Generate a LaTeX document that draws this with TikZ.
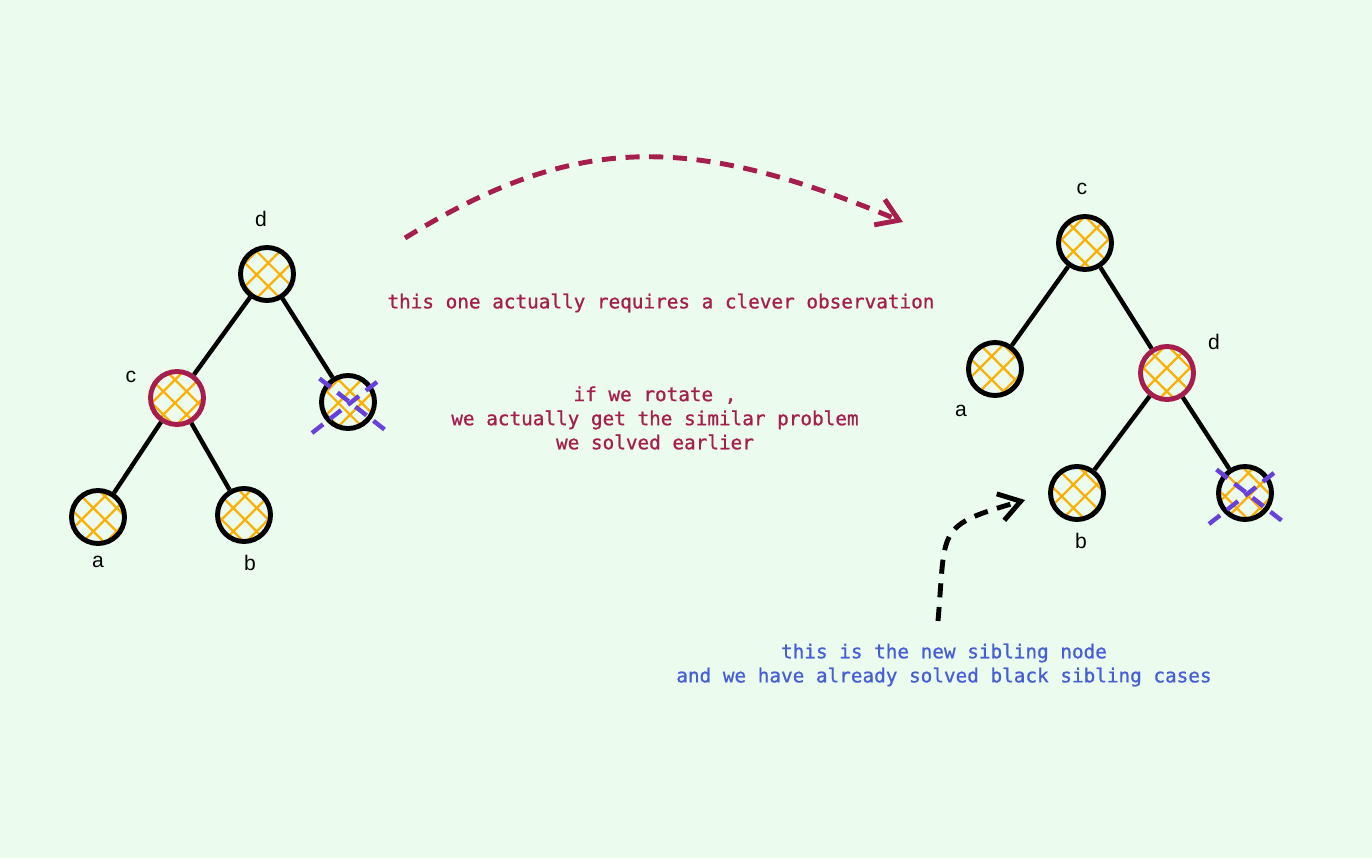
\documentclass[tikz,border=0pt]{standalone}
\usepackage{fontspec}
\setmainfont{Liberation Sans}
\newfontfamily\notefont{DejaVu Sans Mono}[FakeBold=0.9]
\usetikzlibrary{arrows.meta, patterns.meta, calc}
\definecolor{bgmint}{RGB}{235,251,238}
\definecolor{rbred}{RGB}{166,30,77}
\definecolor{hatchgold}{RGB}{250,176,5}
\definecolor{xviolet}{RGB}{103,65,217}
\definecolor{noteblue}{RGB}{70,94,214}

\begin{document}
\begin{tikzpicture}[
        tnode/.style={circle, draw=black, line width=2.8pt, minimum size=10.6mm, inner sep=0pt,
          pattern={Hatch[angle=45, distance=3.3mm, line width=1.3pt]}, pattern color=hatchgold},
        rnode/.style={tnode, draw=rbred},
        edge/.style={line width=2.5pt, black},
        cross/.style={line width=2.5pt, xviolet, dash pattern=on 8pt off 5pt},
        lbl/.style={font=\fontsize{12}{14}\selectfont},
        note/.style={font=\notefont\fontsize{11}{13.7}\selectfont, align=center},
        hint/.style={line width=2.8pt, dash pattern=on 8pt off 5.5pt,
          -{Straight Barb[length=4.2mm, width=5.5mm]}}
      ]
        \fill[bgmint] (0,0) rectangle (27.44,17.16);
        \useasboundingbox (0,0) rectangle (27.44,17.16);
        \node[tnode] (ld) at (5.34,11.68) {};
        \node[rnode] (lc) at (3.54,9.20)  {};
        \node[tnode] (lx) at (6.96,9.12)  {};
        \node[tnode] (la) at (1.96,6.82)  {};
        \node[tnode] (lb) at (4.88,6.86)  {};
        \node[tnode] (rc) at (21.70,12.30) {};
        \node[tnode] (ra) at (19.90,9.78)  {};
        \node[rnode] (rd) at (23.34,9.70)  {};
        \node[tnode] (rb) at (21.54,7.30)  {};
        \node[tnode] (rx) at (24.90,7.30)  {};
        \foreach \p/\q in {ld/lc, ld/lx, lc/la, lc/lb, rc/ra, rc/rd, rd/rb, rd/rx} { \draw[edge] (\p) -- (\q); }
        \foreach \n in {lx, rx} {
          \draw[cross] ($(\n)+(-0.72,-0.62)$) -- ($(\n)+(0.68,0.48)$);
          \draw[cross] ($(\n)+(-0.57,0.47)$) -- ($(\n)+(0.82,-0.62)$);
        }
        \node[lbl] (ldl) at (5.22,12.78) {d};
        \node[lbl] (lcl) at (2.62,9.62)  {c};
        \node[lbl] (lal) at (1.96,5.92)  {a};
        \node[lbl] (lbl) at (5.00,5.90)  {b};
        \node[lbl] (rcl) at (21.64,13.38) {c};
        \node[lbl] (ral) at (19.22,8.94)  {a};
        \node[lbl] (rdl) at (24.28,10.32) {d};
        \node[lbl] (rbl) at (21.62,6.34)  {b};
        \node[note, text=rbred] (obs) at (13.22,11.10) {this one actually requires a clever observation};
        \node[note, text=rbred] (rot) at (13.10,8.80) {if we rotate ,\\we actually get the similar problem\\we solved earlier};
        \node[note, text=noteblue] (sib) at (18.88,3.86) {this is the new sibling node\\and we have already solved black sibling cases};
        \coordinate (rotS) at (8.10,12.40);
        \coordinate (rotE) at (18.06,12.72);
        \coordinate (sibS) at (18.76,4.74);
        \coordinate (sibE) at (20.50,7.16);
        \draw[hint, rbred] (rotS) .. controls (11.5,14.5) and (13.8,14.5) .. (rotE);
        \draw[hint, black] (sibS) .. controls (18.92,6.60) and (18.70,6.64) .. (sibE);
      \end{tikzpicture}
\end{document}
